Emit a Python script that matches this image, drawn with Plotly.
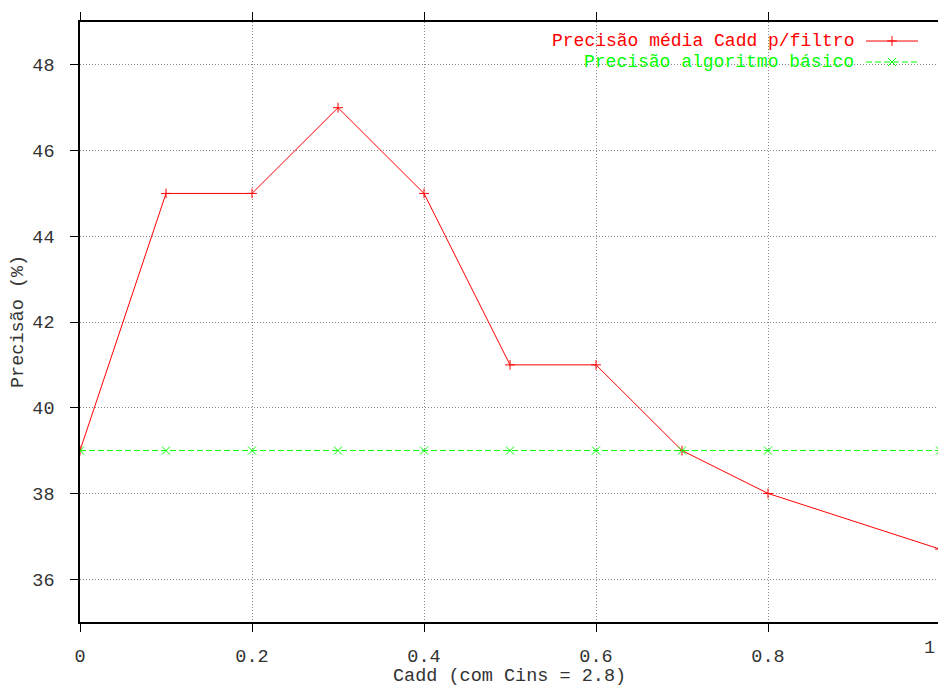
import plotly.graph_objects as go

# ---- data ----
cadd = [0.0, 0.1, 0.2, 0.3, 0.4, 0.5, 0.6, 0.7, 0.8, 1.0]
precisao_filtro = [39, 45, 45, 47, 45, 41, 41, 39, 38, 36.7]
precisao_basico = [39, 39, 39, 39, 39, 39, 39, 39, 39, 39]
x_ticks = [0, 0.2, 0.4, 0.6, 0.8]
x_tick_labels = ["0", "0.2", "0.4", "0.6", "0.8"]
y_ticks = [36, 38, 40, 42, 44, 46, 48]
name_filtro = "Precisão média Cadd p/filtro"
name_basico = "Precisão algoritmo básico"

FONT = "Liberation Mono"
FS = 18.5
RED = "#ff0000"
GREEN = "#00ff00"
TXT = "#333333"

W, H = 938, 687
L, T, B = 80, 22, 65
plot_w = W - L          # 858 px
plot_h = H - T - B      # 600 px
x_full = 860.0          # pixels for x range 0..1
x_max = plot_w / x_full

fig = go.Figure()
fig.add_trace(go.Scatter(
    x=cadd, y=precisao_filtro, mode="lines+markers", name=name_filtro,
    line=dict(color=RED, width=1),
    marker=dict(symbol="cross-thin", size=7, line=dict(color=RED, width=1), color=RED),
    showlegend=False, cliponaxis=True))
fig.add_trace(go.Scatter(
    x=cadd, y=precisao_basico, mode="lines+markers", name=name_basico,
    line=dict(color=GREEN, width=1, dash="6px,3px"),
    marker=dict(symbol="x-thin", size=8, line=dict(color=GREEN, width=1), color=GREEN),
    showlegend=False, cliponaxis=True))

# legend samples on a pixel overlay axis
LEG_Y1, LEG_Y2 = 41, 62
fig.add_trace(go.Scatter(x=[866, 918], y=[LEG_Y1, LEG_Y1], mode="lines", xaxis="x2", yaxis="y2",
                         line=dict(color=RED, width=1), showlegend=False, hoverinfo="skip"))
fig.add_trace(go.Scatter(x=[892], y=[LEG_Y1], mode="markers", xaxis="x2", yaxis="y2",
                         marker=dict(symbol="cross-thin", size=7, line=dict(color=RED, width=1)),
                         showlegend=False, hoverinfo="skip"))
fig.add_trace(go.Scatter(x=[866, 918], y=[LEG_Y2, LEG_Y2], mode="lines", xaxis="x2", yaxis="y2",
                         line=dict(color=GREEN, width=1, dash="6px,3px"), showlegend=False, hoverinfo="skip"))
fig.add_trace(go.Scatter(x=[892], y=[LEG_Y2], mode="markers", xaxis="x2", yaxis="y2",
                         marker=dict(symbol="x-thin", size=8, line=dict(color=GREEN, width=1)),
                         showlegend=False, hoverinfo="skip"))

def px(xp):
    return (xp - L) / plot_w

def py(yp):
    return (H - B - yp) / plot_h

annotations = [
    dict(text=name_filtro, xref="paper", yref="paper", x=px(855), y=py(LEG_Y1), xanchor="right",
         yanchor="middle", showarrow=False, borderpad=0, font=dict(family=FONT, size=18, color=RED)),
    dict(text=name_basico, xref="paper", yref="paper", x=px(855), y=py(LEG_Y2), xanchor="right",
         yanchor="middle", showarrow=False, borderpad=0, font=dict(family=FONT, size=18, color=GREEN)),
    dict(text="Cadd (com Cins = 2.8)", xref="paper", yref="paper", x=px(509), y=py(677),
         xanchor="center", yanchor="middle", showarrow=False, borderpad=0,
         font=dict(family=FONT, size=FS, color=TXT)),
    dict(text="Precisão (%)", xref="paper", yref="paper", x=px(18), y=py(322), textangle=-90,
         xanchor="center", yanchor="middle", showarrow=False, font=dict(family=FONT, size=FS, color=TXT)),
    dict(text="1", xref="paper", yref="paper", x=px(W - 1), y=py(648),
         xanchor="right", yanchor="middle", showarrow=False, font=dict(family=FONT, size=FS, color=TXT)),
]

fig.update_layout(
    width=W, height=H,
    margin=dict(l=L, r=0, t=T, b=B, pad=0),
    paper_bgcolor="white", plot_bgcolor="white",
    font=dict(family=FONT, size=FS, color=TXT),
    annotations=annotations,
    xaxis=dict(range=[0, x_max], tickvals=x_ticks, ticktext=x_tick_labels,
               showgrid=True, gridcolor="#888", griddash="1px,2px", gridwidth=1,
               showline=True, linecolor="black", linewidth=1.5, mirror="ticks",
               ticks="outside", ticklen=8, tickcolor="black", tickwidth=1,
               ticklabelstandoff=8, zeroline=False, fixedrange=True),
    yaxis=dict(range=[35, 49], tickvals=y_ticks,
               showgrid=True, gridcolor="#888", griddash="1px,2px", gridwidth=1,
               showline=True, linecolor="black", linewidth=1.5,
               ticks="outside", ticklen=8, tickcolor="black", tickwidth=1,
               ticklabelstandoff=12, zeroline=False, fixedrange=True),
    xaxis2=dict(range=[L, W], overlaying="x", visible=False, fixedrange=True),
    yaxis2=dict(range=[H - B, T], overlaying="y", visible=False, fixedrange=True),
    showlegend=False,
)

fig.write_html("out.html")
